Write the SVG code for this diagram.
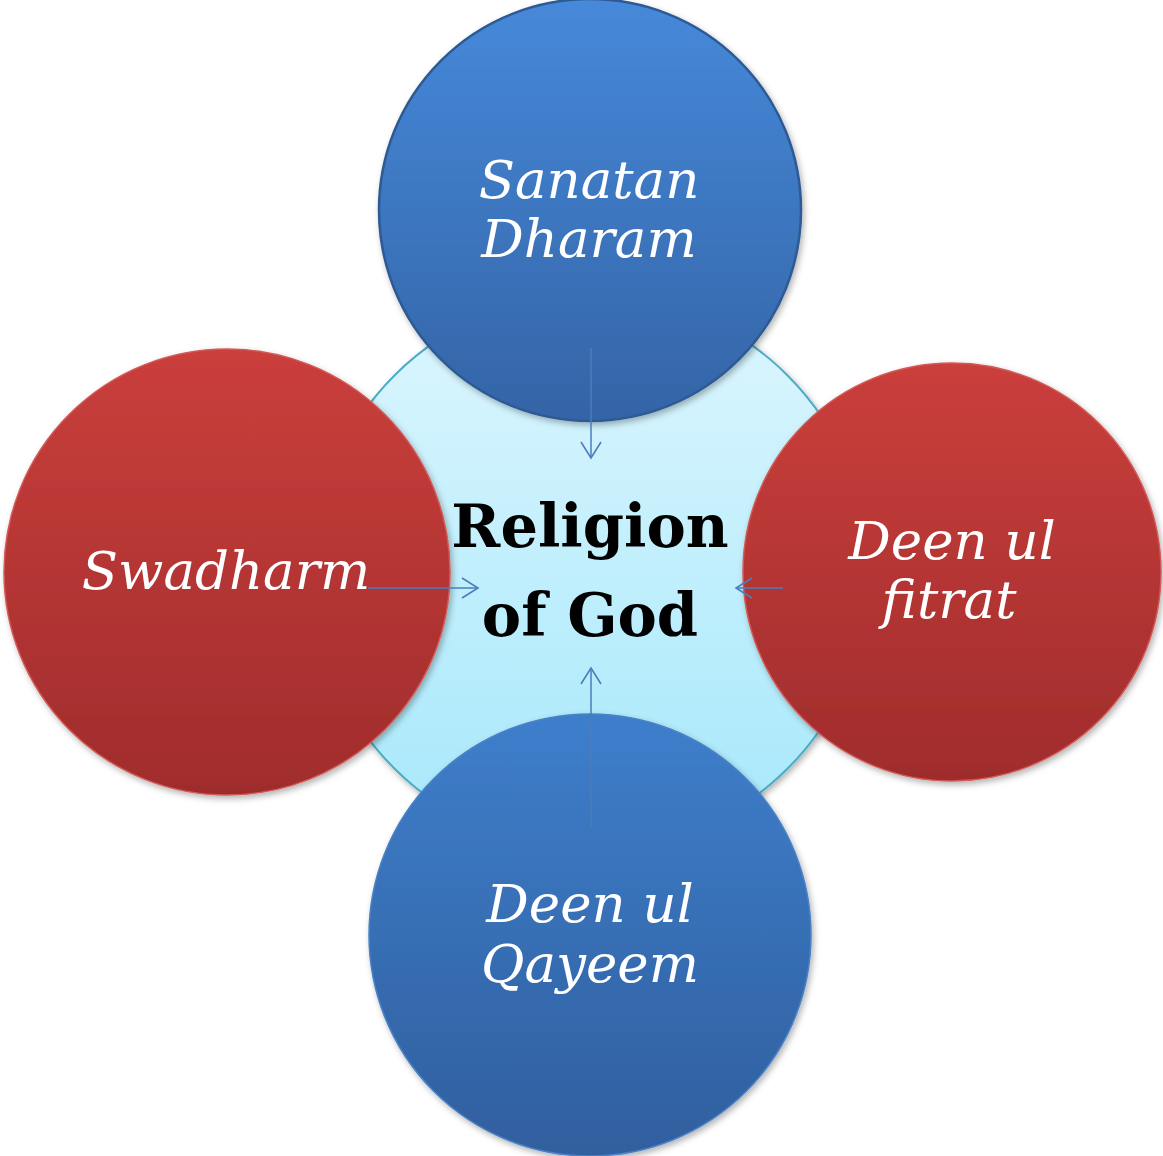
<svg xmlns="http://www.w3.org/2000/svg" width="1163" height="1156" viewBox="0 0 1163 1156">
<defs>
<linearGradient id="gCenter" x1="0" y1="0" x2="0" y2="1"><stop offset="0" stop-color="#DDF6FE"/><stop offset="1" stop-color="#A5E8FB"/></linearGradient>
<linearGradient id="gRed" x1="0" y1="0" x2="0" y2="1"><stop offset="0" stop-color="#CA3F3C"/><stop offset="1" stop-color="#A02C2C"/></linearGradient>
<linearGradient id="gBlueTop" x1="0" y1="0" x2="0" y2="1"><stop offset="0" stop-color="#4689DA"/><stop offset="1" stop-color="#3464A6"/></linearGradient>
<linearGradient id="gBlueBot" x1="0" y1="0" x2="0" y2="1"><stop offset="0" stop-color="#3E7ECB"/><stop offset="1" stop-color="#305F9E"/></linearGradient>
<filter id="shadow" x="-10%" y="-10%" width="125%" height="125%"><feDropShadow dx="2" dy="3" stdDeviation="3" flood-color="#000" flood-opacity="0.3"/></filter>
<marker id="arrow" viewBox="0 0 20 24" refX="18" refY="12" markerWidth="20" markerHeight="24" markerUnits="userSpaceOnUse" orient="auto"><path d="M2,2 L18,12 L2,22" fill="none" stroke="#4A7EBB" stroke-width="1.6"/></marker>
</defs>
<style>
.lbl{font-family:"DejaVu Serif","Liberation Serif",serif;font-style:italic;font-size:53px;fill:#FFFFFF;text-anchor:middle}
.ctr{font-family:"DejaVu Serif","Liberation Serif",serif;font-weight:bold;font-size:59px;fill:#000000;text-anchor:middle}
.conn{stroke:#4A7EBB;stroke-width:1.5;fill:none;marker-end:url(#arrow)}
</style>
<g id="center">
<circle cx="591" cy="572" r="278" fill="url(#gCenter)" stroke="#4BACC6" stroke-width="2" filter="url(#shadow)"/>
<text class="ctr" x="590" y="547">Religion</text>
<text class="ctr" x="590" y="636">of God</text>
</g>
<g id="swadharm">
<circle cx="227" cy="572" r="223" fill="url(#gRed)" stroke="#D25A57" stroke-width="1.5" filter="url(#shadow)"/>
<text class="lbl" x="226" y="589">Swadharm</text>
</g>
<g id="deen-ul-fitrat">
<circle cx="952" cy="572" r="209" fill="url(#gRed)" stroke="#D25A57" stroke-width="1.5" filter="url(#shadow)"/>
<text class="lbl" x="952" y="559">Deen ul</text>
<text class="lbl" x="949" y="618">fitrat</text>
</g>
<g id="sanatan-dharam">
<circle cx="590" cy="210" r="211" fill="url(#gBlueTop)" stroke="#2E5A94" stroke-width="2.5" filter="url(#shadow)"/>
<text class="lbl" x="589" y="198">Sanatan</text>
<text class="lbl" x="589" y="257">Dharam</text>
</g>
<g id="deen-ul-qayeem">
<circle cx="590" cy="935" r="221" fill="url(#gBlueBot)" stroke="#4A82C6" stroke-width="1.5" filter="url(#shadow)"/>
<text class="lbl" x="590" y="922">Deen ul</text>
<text class="lbl" x="590" y="982">Qayeem</text>
</g>
<g id="connectors">
<line class="conn" x1="591" y1="348" x2="591" y2="458"/>
<line class="conn" x1="591" y1="827" x2="591" y2="668"/>
<line class="conn" x1="368" y1="588" x2="478" y2="588"/>
<line class="conn" x1="783" y1="588" x2="736" y2="588"/>
</g>
</svg>
